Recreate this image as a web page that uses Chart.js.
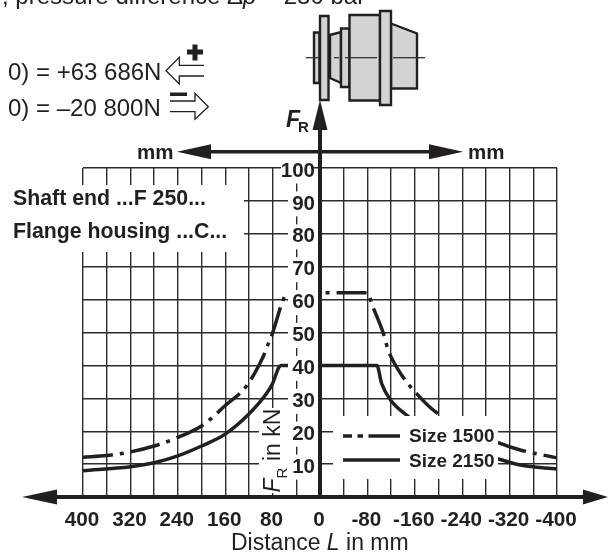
<!DOCTYPE html>
<html><head><meta charset="utf-8">
<style>html,body{margin:0;padding:0;background:#fff}canvas{display:block}</style>
<script src="https://cdn.jsdelivr.net/npm/chart.js@4"></script>
</head><body><canvas id="c" width="608" height="553"></canvas>
<script>
const seriesNames = ["Size 1500", "Size 2150"];
const distance1500 = [400,360,320,280,240,200,174,160,125,96,87,81,66,60,56,0,-81,-87,-107,-115,-138,-160,-194,-240,-280,-304,-338,-400];
const force1500    = [12.1,12.6,13.7,15.5,18.1,21.6,25.4,27.8,33.5,42.6,46.7,49.3,58,60.9,62.1,62.1,62.1,58.9,49.7,44.7,37,32,26,21.5,18.2,16.3,14.3,11.9];
const distance2150 = [400,320,280,240,200,160,120,90,80,70,66,0,-96,-104,-119,-146,-185,-240,-280,-304,-338,-400];
const force2150    = [8,9.2,10.4,12.5,15.5,19.1,25.2,31.5,34.5,39.2,40,40,40,34.5,29.5,24.9,19.5,14.5,12.6,11.4,9.7,8.5];
const xLabelStep = 80, xGridStep = 40, yStep = 10;

const INK = '#231f20', GREY = '#d1d3d4', FONT = '"Liberation Sans", Arial, sans-serif';

function toPoints(xs, ys){ return xs.map((x,i)=>({x, y:ys[i]})); }

function arrow(ctx, x1,y1,x2,y2,len,half,lw){
  const a=Math.atan2(y2-y1,x2-x1), c=Math.cos(a), s=Math.sin(a);
  ctx.strokeStyle=ctx.fillStyle=INK; ctx.lineWidth=lw; ctx.setLineDash([]);
  ctx.beginPath(); ctx.moveTo(x1,y1); ctx.lineTo(x2-c*len,y2-s*len); ctx.stroke();
  ctx.beginPath(); ctx.moveTo(x2,y2);
  ctx.lineTo(x2-c*len-s*half, y2-s*len+c*half);
  ctx.lineTo(x2-c*len+s*half, y2-s*len-c*half);
  ctx.closePath(); ctx.fill();
}
function poly(ctx, pts){
  ctx.beginPath(); pts.forEach((p,i)=>i?ctx.lineTo(p[0],p[1]):ctx.moveTo(p[0],p[1])); ctx.closePath();
  ctx.fillStyle=GREY; ctx.fill(); ctx.strokeStyle=INK; ctx.lineWidth=2.4; ctx.stroke();
}
function rect(ctx,x0,y0,x1,y1){ poly(ctx,[[x0,y0],[x1,y0],[x1,y1],[x0,y1]]); }
function text(ctx,s,x,y,font,align){ ctx.font=font; ctx.fillStyle=INK; ctx.textAlign=align||'left'; ctx.textBaseline='alphabetic'; ctx.fillText(s,x,y); return ctx.measureText(s).width; }

const masks = {
  id:'masks',
  afterDatasetsDraw(chart){
    const {ctx, scales:{y}} = chart;
    ctx.save(); ctx.fillStyle='#fff';
    ctx.fillRect(0,185,244,67);
    ctx.fillRect(333,416,165,63);
    ctx.fillRect(259,408,29,85);
    y.ticks.forEach(t=>{ if(t.value>0){ const p=y.getPixelForValue(t.value);
      ctx.fillRect(t.value===100?281:288,p+3-12.5,30,25); }});
    ctx.restore();
  }
};
const deco = {
  id:'deco',
  afterDraw(chart){
    const {ctx, scales:{x,y}} = chart;
    const x0=x.getPixelForValue(0), y0=y.getPixelForValue(0);
    ctx.save(); ctx.lineCap='butt';
    arrow(ctx,x0,y0+1,x0,100,30,7.5,4);
    arrow(ctx,x0,151.7,177,151.7,34,7.5,3.6);
    arrow(ctx,x0,151.7,463,151.7,34,7.5,3.6);
    arrow(ctx,x0,y0,22,y0,35,7.5,4);
    arrow(ctx,x0,y0,608,y0,25,7.5,4);
    rect(ctx,314,32.5,319.5,83);
    poly(ctx,[[330,35],[341,32],[341,83],[330,78]]);
    rect(ctx,341,28.5,349.5,87);
    rect(ctx,349.5,15,380,100.5);
    poly(ctx,[[391,23.5],[417,33.5],[417,88.5],[391,88.5]]);
    rect(ctx,380,11,391,105);
    rect(ctx,320,16,328.5,100);
    ctx.strokeStyle='#333'; ctx.lineWidth=1.3;
    [[306,319],[334,339],[345,377],[393,425]].forEach(s=>{ctx.beginPath();ctx.moveTo(s[0],57.7);ctx.lineTo(s[1],57.7);ctx.stroke();});
    const big='24px '+FONT, bigI='italic 24px '+FONT, bold='bold 20.5px '+FONT, label='bold 21.3px '+FONT;
    let tx=2, ty=4;
    tx+=text(ctx,', pressure difference Δ',tx,ty,big);
    tx+=text(ctx,'p',tx,ty,bigI);
    text(ctx,' = 280 bar',tx,ty,big);
    text(ctx,'0) = +63 686N',8,80,big);
    text(ctx,'0) = –20 800N',8,116,big);
    ctx.fillStyle=INK; ctx.fillRect(187,49.5,16,5); ctx.fillRect(192.5,44.5,5,16);
    ctx.fillRect(170,92.5,17,3.5);
    ctx.strokeStyle=INK; ctx.lineWidth=1.3;
    ctx.beginPath(); ctx.moveTo(204,65.3); ctx.lineTo(179.3,65.3); ctx.lineTo(179.3,57.3); ctx.lineTo(166,70.7); ctx.lineTo(179.3,84); ctx.lineTo(179.3,76); ctx.lineTo(204,76); ctx.stroke();
    ctx.beginPath(); ctx.moveTo(170,101); ctx.lineTo(195,101); ctx.lineTo(195,93.3); ctx.lineTo(208.3,106.7); ctx.lineTo(195,119.3); ctx.lineTo(195,111.7); ctx.lineTo(170,111.7); ctx.stroke();
    text(ctx,'F',286,126.7,'bold italic 23px '+FONT);
    text(ctx,'R',298,131.7,'bold 15px '+FONT);
    text(ctx,'mm',137,159,bold);
    text(ctx,'mm',468,159,bold);
    text(ctx,'Shaft end ...F 250...',13,205,label);
    text(ctx,'Flange housing ...C...',13,237.7,label);
    const title='23px '+FONT, titleI='italic 23px '+FONT;
    let bx=231;
    bx+=text(ctx,'Distance ',bx,550,title);
    bx+=text(ctx,'L',bx,550,titleI);
    text(ctx,' in mm',bx,550,title);
    ctx.save(); ctx.translate(280,492.5); ctx.rotate(-Math.PI/2);
    let rx=0;
    rx+=text(ctx,'F',rx,0,titleI);
    text(ctx,'R',rx,7,'15px '+FONT); rx+=11;
    text(ctx,' in kN',rx,0,title);
    ctx.restore();
    ctx.strokeStyle=INK; ctx.lineWidth=3.5;
    [[343,352],[357.5,363],[368.5,400]].forEach(s=>{ctx.beginPath();ctx.moveTo(s[0],436);ctx.lineTo(s[1],436);ctx.stroke();});
    ctx.beginPath();ctx.moveTo(343,460);ctx.lineTo(400,460);ctx.stroke();
    text(ctx,seriesNames[0],409,441.7,'bold 19px '+FONT);
    text(ctx,seriesNames[1],409,467,'bold 19px '+FONT);
    ctx.restore();
  }
};

new Chart(document.getElementById('c'),{
  type:'line',
  data:{datasets:[
    {label:seriesNames[0],data:toPoints(distance1500,force1500),borderColor:INK,borderWidth:3.5,borderDash:[30,7,4,7],pointRadius:0,cubicInterpolationMode:'monotone',fill:false},
    {label:seriesNames[1],data:toPoints(distance2150,force2150),borderColor:INK,borderWidth:3.5,pointRadius:0,cubicInterpolationMode:'monotone',fill:false}
  ]},
  options:{
    responsive:false,animation:false,devicePixelRatio:1,
    layout:{padding:{left:83,right:51,top:168,bottom:56}},
    plugins:{legend:{display:false},tooltip:{enabled:false},title:{display:false}},
    scales:{
      x:{type:'linear',reverse:true,min:-400,max:400,position:{y:0},
        grid:{color:'#2b2b2b',lineWidth:1.4,drawTicks:false,z:-1},border:{display:false},
        ticks:{stepSize:xGridStep,autoSkip:false,maxRotation:0,padding:11,labelOffset:-1,color:INK,z:1,
          font:{family:FONT,weight:'bold',size:20.7},
          callback:v=>v%xLabelStep===0?String(v):''}},
      y:{type:'linear',min:0,max:100,position:{x:8.4},
        grid:{color:'#2b2b2b',lineWidth:1.4,drawTicks:false,z:-1},border:{display:false},
        ticks:{stepSize:yStep,autoSkip:false,labelOffset:3,color:INK,z:1,
          font:{family:FONT,weight:'bold',size:20.5},
          callback:v=>v===0?'':String(v)}}
    }
  },
  plugins:[masks,deco]
});
</script></body></html>
